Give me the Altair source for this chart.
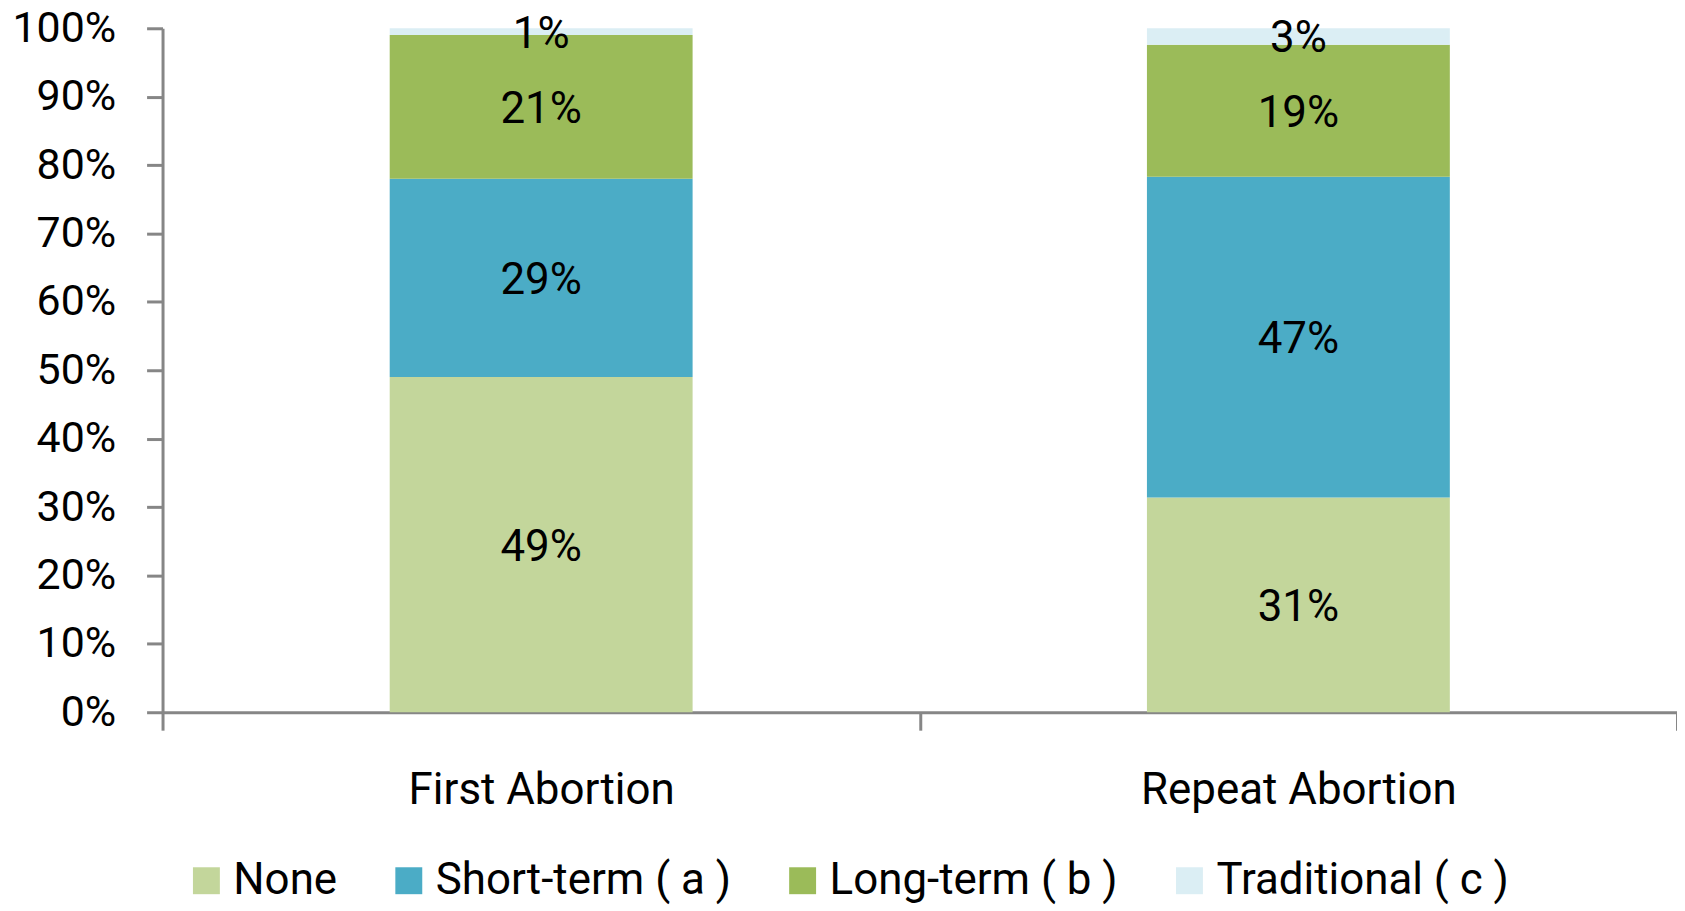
import altair as alt
import pandas as pd

categories = ["First Abortion", "Repeat Abortion"]
methods = ["None", "Short-term ( a )", "Long-term ( b )", "Traditional ( c )"]
first_values = [49, 29, 21, 1]
repeat_values = [31.4, 46.9, 19.3, 2.4]
first_labels = ["49%", "29%", "21%", "1%"]
repeat_labels = ["31%", "47%", "19%", "3%"]
colors = ["#C3D69B", "#4BACC6", "#9BBB59", "#DBEEF4"]
y_ticks = [0, 10, 20, 30, 40, 50, 60, 70, 80, 90, 100]

rows = []
for cat, vals, labs in [(categories[0], first_values, first_labels),
                        (categories[1], repeat_values, repeat_labels)]:
    for i, (m, v, l) in enumerate(zip(methods, vals, labs)):
        rows.append({"category": cat, "method": m, "value": v, "label": l, "order": i})
df = pd.DataFrame(rows)

FONT = "Roboto"
AXIS_GREY = "#868686"

base = alt.Chart(df).transform_stack(
    stack="value", groupby=["category"], as_=["y0", "y1"],
    sort=[alt.SortField("order", order="ascending")]
).transform_calculate(mid="(datum.y0 + datum.y1) / 2")

x_enc = alt.X(
    "category:N", sort=categories, title=None,
    scale=alt.Scale(paddingInner=0, paddingOuter=0),
    axis=alt.Axis(
        labelAngle=0, labelFont=FONT, labelFontSize=44, labelColor="black",
        labelPadding=39, labelLimit=0, domainColor=AXIS_GREY, domainWidth=3,
        tickColor=AXIS_GREY, tickWidth=3, tickSize=18, tickBand="extent",
    ),
)

bars = base.mark_bar(width=alt.RelativeBandSize(0.4)).encode(
    x=x_enc,
    y=alt.Y(
        "y0:Q", title=None,
        scale=alt.Scale(domain=[0, 100], nice=False),
        axis=alt.Axis(
            values=y_ticks, labelExpr="datum.value + '%'",
            labelFont=FONT, labelFontSize=43, labelColor="black",
            labelPadding=31, labelLimit=0, domainColor=AXIS_GREY, domainWidth=3,
            tickColor=AXIS_GREY, tickWidth=3, tickSize=16, grid=False,
        ),
    ),
    y2="y1:Q",
    color=alt.Color(
        "method:N", sort=methods,
        scale=alt.Scale(domain=methods, range=colors),
        legend=alt.Legend(
            title=None, orient="none", legendX=22, legendY=833,
            direction="horizontal", symbolType="square", symbolSize=729,
            symbolStrokeWidth=0, labelFont=FONT, labelFontSize=44,
            labelColor="black", labelOffset=5, columnPadding=49,
            labelLimit=0,
        ),
    ),
)

texts = base.mark_text(
    font=FONT, fontSize=44, color="black", align="center", baseline="middle", dy=3
).encode(
    x=alt.X("category:N", sort=categories),
    y=alt.Y("mid:Q"),
    text="label:N",
)

chart = alt.layer(bars, texts).properties(
    width=1519, height=686,
    autosize=alt.AutoSizeParams(type="none"),
    padding={"left": 155, "top": 19, "right": 0, "bottom": 192},
).configure_view(stroke=None)

chart.save("out.html", embed_options={"renderer": "svg", "actions": False})
